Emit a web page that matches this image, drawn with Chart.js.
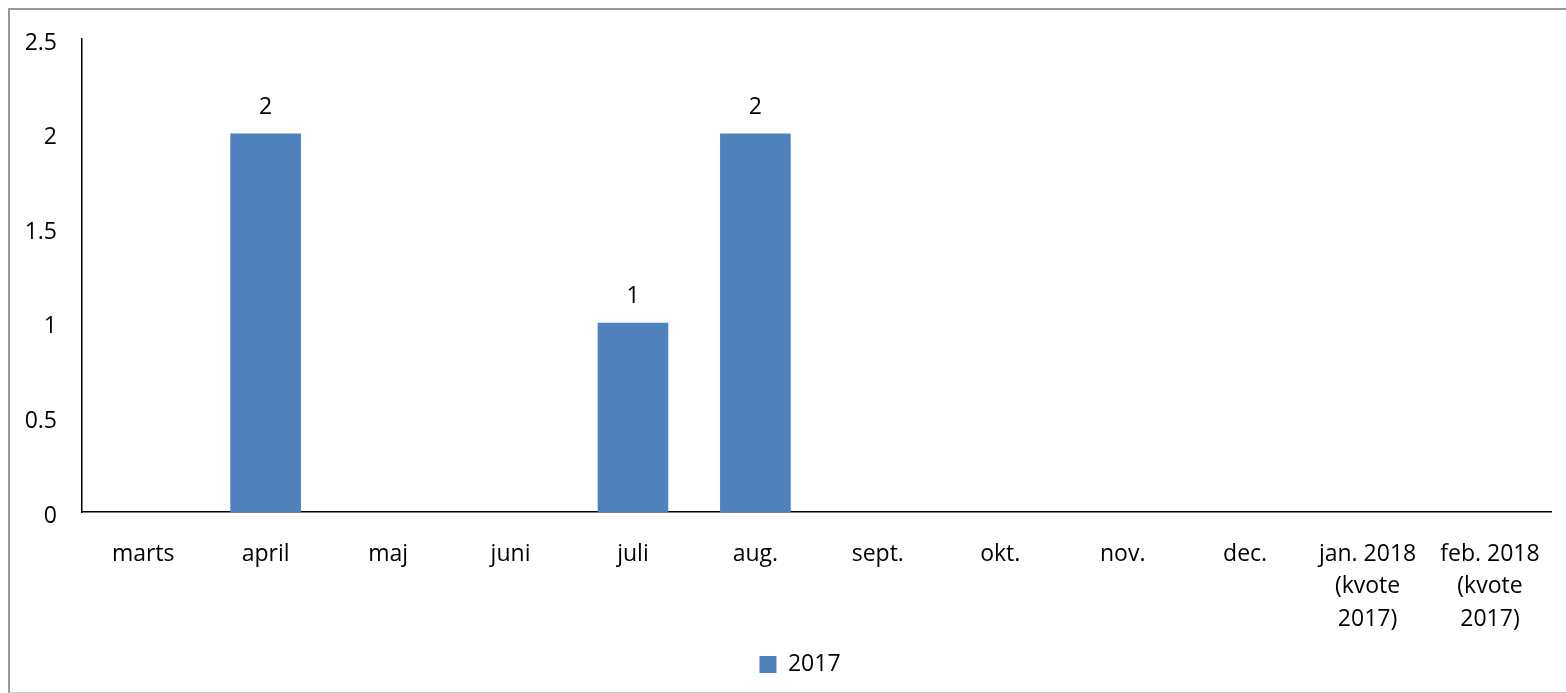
<!DOCTYPE html>
<html>
<head>
<meta charset="utf-8">
<script src="https://cdn.jsdelivr.net/npm/chart.js@4.4.0/dist/chart.umd.min.js"></script>
<style>
html,body{margin:0;padding:0;background:#fff;overflow:hidden;}
#wrap{position:relative;width:1566px;height:693px;}
#frame{position:absolute;left:8px;top:8px;width:1600px;height:682px;border-left:2px solid #9a9a9a;border-top:2px solid #9a9a9a;border-bottom:1px solid #c8c8c8;pointer-events:none;}
canvas{position:absolute;left:0;top:0;}
</style>
</head>
<body>
<div id="wrap"><canvas id="c" width="1566" height="693"></canvas><div id="frame"></div></div>
<script>
const categories = [
  "marts", "april", "maj", "juni", "juli", "aug.", "sept.", "okt.", "nov.", "dec.",
  ["jan. 2018", "(kvote", "2017)"], ["feb. 2018", "(kvote", "2017)"]
];
const seriesName = "2017";
const values = [null, 2, null, null, 1, 2, null, null, null, null, null, null];
const yTicks = [0, 0.5, 1, 1.5, 2, 2.5];

const FONT = "'Open Sans', 'Liberation Sans', sans-serif";
const FS = 23;

const dataLabels = {
  id: 'dataLabels',
  afterDatasetsDraw(chart) {
    const ctx = chart.ctx;
    ctx.save();
    ctx.font = FS + "px " + FONT;
    ctx.fillStyle = '#000';
    ctx.textAlign = 'center';
    ctx.textBaseline = 'middle';
    chart.data.datasets.forEach((ds, di) => {
      const meta = chart.getDatasetMeta(di);
      meta.data.forEach((el, i) => {
        const v = ds.data[i];
        if (v === null || v === undefined) return;
        ctx.fillText(String(v), el.x, el.y - 26);
      });
    });
    ctx.restore();
  }
};

const legendShift = {
  id: 'legendShift',
  afterLayout(chart) {
    if (chart.legend) {
      chart.legend.left += 21;
      chart.legend.right += 21;
    }
  }
};

new Chart(document.getElementById('c'), {
  type: 'bar',
  data: {
    labels: categories,
    datasets: [{
      label: seriesName,
      data: values,
      backgroundColor: '#4F81BD',
      borderWidth: 0,
      barPercentage: 0.577,
      categoryPercentage: 1.0
    }]
  },
  options: {
    responsive: false,
    animation: false,
    devicePixelRatio: 1,
    layout: { padding: { left: 0, right: 8, top: 39, bottom: 7 } },
    scales: {
      x: {
        grid: { display: false, drawTicks: false },
        border: { display: true, color: '#000', width: 1.5 },
        ticks: {
          color: '#000',
          font: { family: FONT, size: FS, lineHeight: 32.5 / FS },
          padding: 26,
          maxRotation: 0,
          minRotation: 0,
          autoSkip: false
        },
        afterFit(scale) { scale.height = 131; }
      },
      y: {
        min: 0,
        max: 2.5,
        afterBuildTicks(scale) { scale.ticks = yTicks.map(v => ({ value: v })); },
        grid: { display: false, drawTicks: false },
        border: { display: true, color: '#000', width: 1.5 },
        ticks: {
          color: '#000',
          font: { family: FONT, size: FS },
          padding: 25,
          labelOffset: 4,
          callback: (v) => String(v)
        },
        afterFit(scale) { scale.width = 82; }
      }
    },
    plugins: {
      legend: {
        position: 'bottom',
        labels: {
          color: '#000',
          font: { family: FONT, size: FS },
          boxWidth: 17,
          boxHeight: 17,
          padding: 10
        }
      },
      tooltip: { enabled: false }
    }
  },
  plugins: [dataLabels, legendShift]
});
</script>
</body>
</html>
